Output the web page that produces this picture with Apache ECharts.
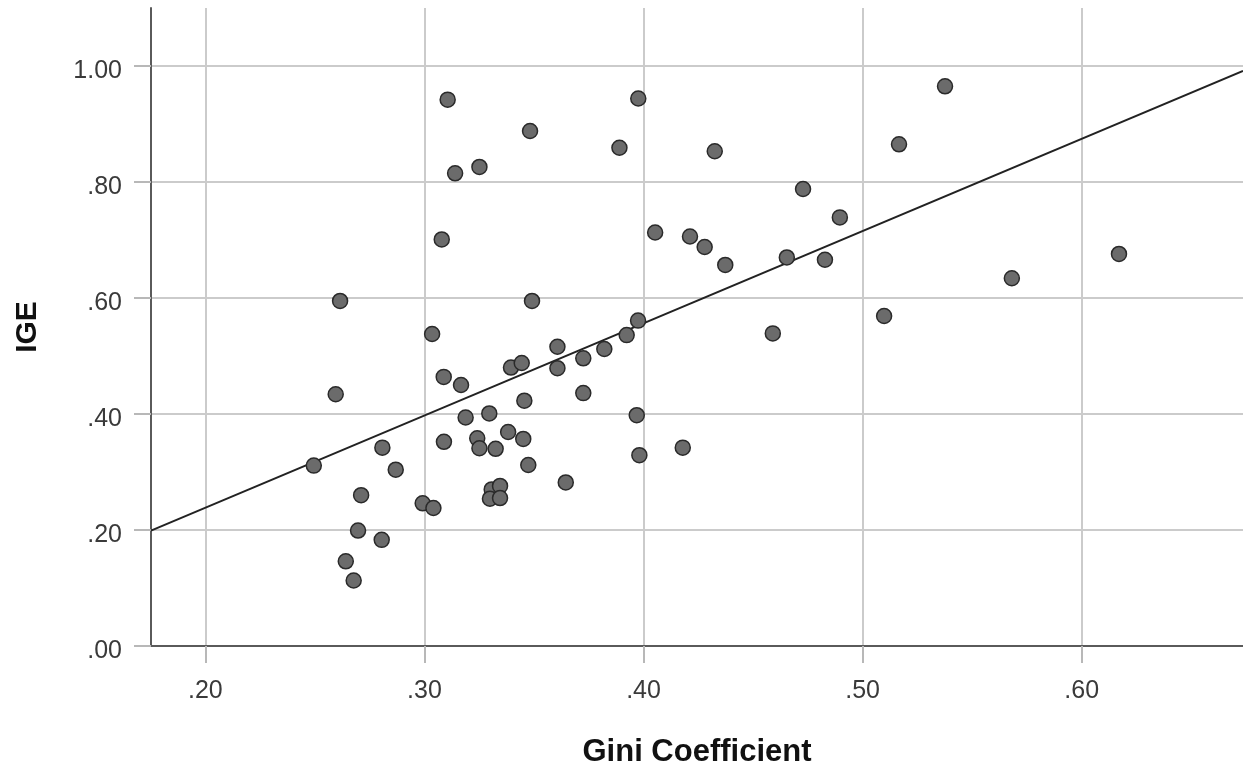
<!DOCTYPE html>
<html>
<head>
<meta charset="utf-8">
<script src="https://cdn.jsdelivr.net/npm/echarts@6/dist/echarts.min.js"></script>
<style>
    html, body { margin: 0; padding: 0; background: #fff; }
    #chart { width: 1243px; height: 769px; }
</style>
</head>
<body>
<div id="chart"></div>
<script>
// Gini coefficient (x) and IGE (y)
const gini = [
    0.2495, 0.2595, 0.2615, 0.2641, 0.2677, 0.2697, 0.2711, 0.2808, 0.2805, 0.2869,
    0.2992, 0.3041, 0.3035, 0.3079, 0.3106, 0.3088, 0.3089, 0.3140, 0.3167, 0.3188,
    0.3251, 0.3241, 0.3251, 0.3296, 0.3307, 0.3299, 0.3345, 0.3345, 0.3325, 0.3382,
    0.3395, 0.3444, 0.3451, 0.3456, 0.3474, 0.3482, 0.3491, 0.3607, 0.3607, 0.3645,
    0.3725, 0.3725, 0.3821, 0.3890, 0.3923, 0.3969, 0.3976, 0.3975, 0.3981, 0.4053,
    0.4179, 0.4212, 0.4279, 0.4325, 0.4373, 0.4590, 0.4654, 0.4728, 0.4828, 0.4896,
    0.5098, 0.5166, 0.5376, 0.5681, 0.6170
];
const ige = [
    0.311, 0.434, 0.595, 0.146, 0.113, 0.199, 0.260, 0.342, 0.183, 0.304,
    0.246, 0.238, 0.538, 0.701, 0.942, 0.464, 0.352, 0.815, 0.450, 0.394,
    0.826, 0.358, 0.341, 0.401, 0.270, 0.254, 0.276, 0.255, 0.340, 0.369,
    0.480, 0.488, 0.357, 0.423, 0.312, 0.888, 0.595, 0.516, 0.479, 0.282,
    0.436, 0.496, 0.512, 0.859, 0.536, 0.398, 0.944, 0.561, 0.329, 0.713,
    0.342, 0.706, 0.688, 0.853, 0.657, 0.539, 0.670, 0.788, 0.666, 0.739,
    0.569, 0.865, 0.965, 0.634, 0.676
];
const xTicks = [0.2, 0.3, 0.4, 0.5, 0.6];
const yTicks = [0, 0.2, 0.4, 0.6, 0.8, 1.0];
// fit line
const fitIntercept = -0.0797;
const fitSlope = 1.59;

const xMin = 0.1752, xMax = 0.6736;
const yMin = 0, yMax = 1.1;

let points = [];
for (let i = 0; i < gini.length; i++) {
    points.push([gini[i], ige[i]]);
}
const fitLine = [
    [xMin, fitIntercept + fitSlope * xMin],
    [xMax, fitIntercept + fitSlope * xMax]
];

function fmt(v) {
    return v.toFixed(2).replace(/^0/, '');
}

const labelFont = 'Liberation Sans, Arial, sans-serif';
const gridColor = '#cbcbcb';

let myChart = echarts.init(document.getElementById('chart'));
let option = {
    animation: false,
    grid: { left: 151, right: 0, top: 8, bottom: 123, outerBoundsMode: 'none', containLabel: false },
    xAxis: {
        type: 'value',
        min: xMin,
        max: xMax,
        name: 'Gini Coefficient',
        nameLocation: 'middle',
        nameGap: 91,
        nameTextStyle: { fontFamily: labelFont, fontWeight: 'bold', fontSize: 31, color: '#111' },
        axisLine: { show: true, lineStyle: { color: '#5a5a5a', width: 2 } },
        axisTick: { show: true, length: 17, customValues: xTicks, lineStyle: { color: '#b8b8b8', width: 2 } },
        axisLabel: { customValues: xTicks, margin: 33, fontFamily: labelFont, fontSize: 25, color: '#3a3a3a', formatter: fmt },
        splitLine: { show: true, lineStyle: { color: gridColor, width: 2 } }
    },
    yAxis: {
        type: 'value',
        min: yMin,
        max: yMax,
        name: 'IGE',
        nameLocation: 'middle',
        nameRotate: 90,
        nameGap: 108,
        nameTextStyle: { fontFamily: labelFont, fontWeight: 'bold', fontSize: 30, color: '#111' },
        axisLine: { show: true, lineStyle: { color: '#5a5a5a', width: 2 } },
        axisTick: { show: true, length: 17, customValues: yTicks, lineStyle: { color: '#b8b8b8', width: 2 } },
        axisLabel: { customValues: yTicks, margin: 29, verticalAlign: 'top', lineHeight: 10, fontFamily: labelFont, fontSize: 25, color: '#3a3a3a', formatter: fmt },
        splitLine: { show: true, lineStyle: { color: gridColor, width: 2 } }
    },
    series: [
        {
            type: 'line',
            data: fitLine,
            symbol: 'none',
            silent: true,
            z: 1,
            lineStyle: { color: '#222', width: 2 }
        },
        {
            type: 'scatter',
            data: points,
            symbolSize: 15,
            z: 2,
            itemStyle: { color: '#6b6b6b', borderColor: '#2a2a2a', borderWidth: 1.5, opacity: 1 }
        }
    ]
};
myChart.setOption(option);
</script>
</body>
</html>
